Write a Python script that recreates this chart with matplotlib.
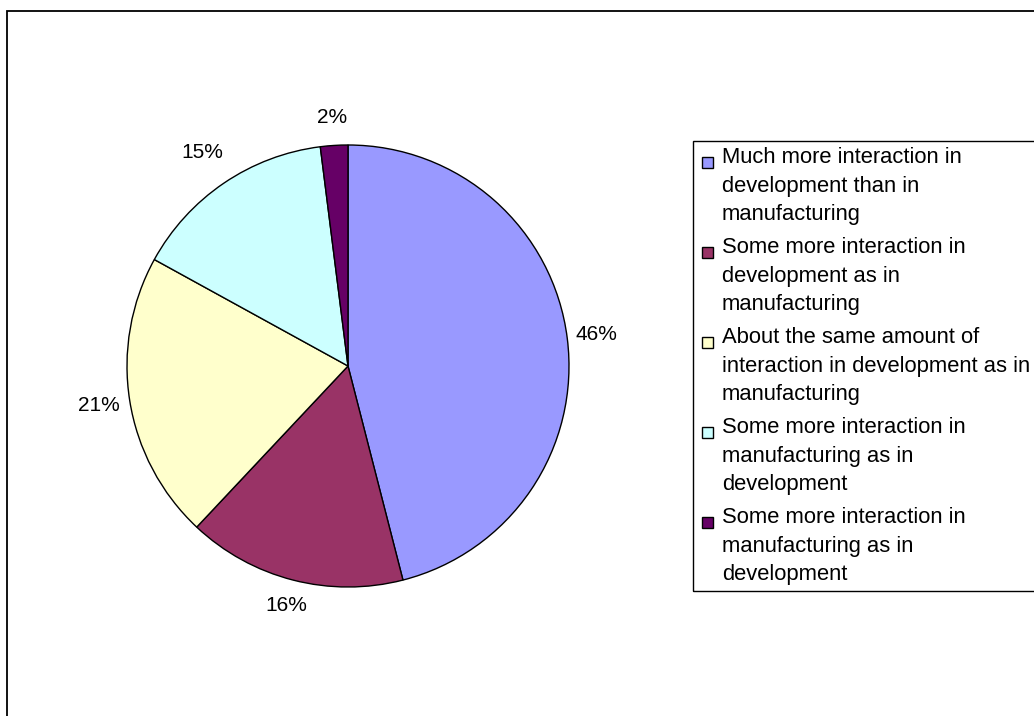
import numpy as np
import matplotlib.pyplot as plt
from matplotlib.patches import Rectangle

plt.rcParams["font.family"] = ["Liberation Sans", "DejaVu Sans"]

# data
categories = [
    "Much more interaction in\ndevelopment than in\nmanufacturing",
    "Some more interaction in\ndevelopment as in\nmanufacturing",
    "About the same amount of\ninteraction in development as in\nmanufacturing",
    "Some more interaction in\nmanufacturing as in\ndevelopment",
    "Some more interaction in\nmanufacturing as in\ndevelopment",
]
shares = [46, 16, 21, 15, 2]
colors = ["#9999FF", "#993366", "#FFFFCC", "#CCFFFF", "#660066"]

# label distance from centre (radius multiples), Excel-style
label_dist = [1.135, 1.12, 1.14, 1.17, 1.125]

W, H = 1034, 716
fig = plt.figure(figsize=(W / 100, H / 100), dpi=100)

# outer chart border, runs off the right and bottom edges
fig.patches.append(Rectangle((6.5 / W, -0.5), 2.0, 1.5 - 10.5 / H,
                             transform=fig.transFigure, fill=False,
                             edgecolor="black", linewidth=1.3))

cx, cy, r = 348, 716 - 366, 221
ax = fig.add_axes([(cx - r) / W, (cy - r) / H, 2 * r / W, 2 * r / H])
wedges, _ = ax.pie(shares, colors=colors, startangle=90, counterclock=False,
                   wedgeprops=dict(edgecolor="black", linewidth=1.0))
ax.set_xlim(-1, 1)
ax.set_ylim(-1, 1)
ax.set_aspect("equal")
ax.axis("off")

for w, s, d in zip(wedges, shares, label_dist):
    ang = np.radians((w.theta1 + w.theta2) / 2)
    ax.text(d * np.cos(ang), d * np.sin(ang), f"{s}%", ha="center",
            va="center", fontsize=15, clip_on=False)

# legend box, drawn by hand so it can run off the right edge like the original
lx, ly_top, ly_bot = 693, 141, 591
fig.patches.append(Rectangle((lx / W, 1 - ly_bot / H), 1.0, (ly_bot - ly_top) / H,
                             transform=fig.transFigure, fill=False,
                             edgecolor="black", linewidth=1.0))
for i, (lab, c) in enumerate(zip(categories, colors)):
    top = 152 + 90 * i
    fig.patches.append(Rectangle((702 / W, 1 - (top + 16) / H), 11 / W, 11 / H,
                                 transform=fig.transFigure, facecolor=c,
                                 edgecolor="black", linewidth=1.0))
    fig.text(722 / W, 1 - (top - 5) / H, lab, ha="left", va="top",
             fontsize=15.8, linespacing=1.47)

fig.savefig("out.png", dpi=100, facecolor="white")
